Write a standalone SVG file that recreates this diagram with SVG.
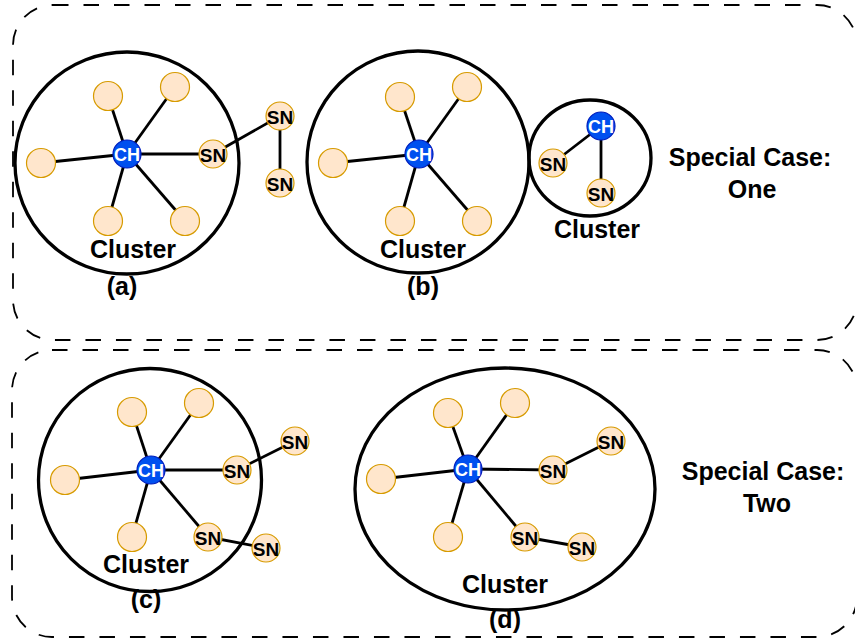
<svg xmlns="http://www.w3.org/2000/svg" width="855" height="641" viewBox="0 0 855 641">
  <style>
    .frame { fill: none; stroke: #000; stroke-width: 1.8; stroke-dasharray: 15.5 15; }
    .cluster { fill: none; stroke: #000; stroke-width: 3.3; }
    .edge { stroke: #000; stroke-width: 2.8; fill: none; }
    .sn { fill: #FFE6CC; stroke: #D79B00; stroke-width: 1.2; }
    .ch { fill: #0050EF; stroke: #001DBC; stroke-width: 1.2; }
    .big { font-family: "Liberation Sans", Arial, sans-serif; font-weight: bold; font-size: 25px; fill: #000; text-anchor: middle; }
    .snt { font-family: "Liberation Sans", Arial, sans-serif; font-weight: bold; font-size: 19px; fill: #000; text-anchor: middle; dominant-baseline: central; }
    .cht { font-family: "Liberation Sans", Arial, sans-serif; font-weight: bold; font-size: 18px; fill: #fff; text-anchor: middle; dominant-baseline: central; }
  </style>

  <!-- dashed case frames -->
  <g id="frames">
    <rect id="frame-one" class="frame" x="13" y="5" width="844" height="335" rx="40" ry="40"/>
    <rect id="frame-two" class="frame" x="12" y="350" width="845" height="287" rx="40" ry="40"/>
  </g>

  <!-- cluster boundaries -->
  <g id="clusters">
    <ellipse id="cluster-a" class="cluster" cx="127" cy="163" rx="112" ry="111"/>
    <ellipse id="cluster-b" class="cluster" cx="418" cy="162" rx="111" ry="111"/>
    <ellipse id="cluster-b2" class="cluster" cx="590" cy="158" rx="61" ry="58"/>
    <ellipse id="cluster-c" class="cluster" cx="150" cy="480" rx="111.5" ry="111.5"/>
    <ellipse id="cluster-d" class="cluster" cx="505" cy="489" rx="150" ry="121"/>
  </g>

  <!-- links -->
  <g id="connectors">
    <!-- (a) -->
    <line class="edge" x1="127" y1="154" x2="108" y2="96"/>
    <line class="edge" x1="127" y1="154" x2="175" y2="87"/>
    <line class="edge" x1="127" y1="154" x2="41" y2="163"/>
    <line class="edge" x1="127" y1="154" x2="108" y2="221"/>
    <line class="edge" x1="127" y1="154" x2="185" y2="221"/>
    <line class="edge" x1="127" y1="154" x2="213" y2="154"/>
    <line class="edge" x1="213" y1="154" x2="280" y2="116"/>
    <line class="edge" x1="280" y1="116" x2="280" y2="183"/>
    <!-- (b) -->
    <line class="edge" x1="419" y1="154" x2="400" y2="97"/>
    <line class="edge" x1="419" y1="154" x2="467" y2="87"/>
    <line class="edge" x1="419" y1="154" x2="333" y2="163"/>
    <line class="edge" x1="419" y1="154" x2="400" y2="221"/>
    <line class="edge" x1="419" y1="154" x2="477" y2="221"/>
    <line class="edge" x1="601" y1="126" x2="553" y2="163"/>
    <line class="edge" x1="601" y1="126" x2="601" y2="193"/>
    <!-- (c) -->
    <line class="edge" x1="151" y1="470" x2="132" y2="412"/>
    <line class="edge" x1="151" y1="470" x2="199" y2="403"/>
    <line class="edge" x1="151" y1="470" x2="65" y2="480"/>
    <line class="edge" x1="151" y1="470" x2="132" y2="537"/>
    <line class="edge" x1="151" y1="470" x2="237" y2="470"/>
    <line class="edge" x1="151" y1="470" x2="208" y2="537"/>
    <line class="edge" x1="237" y1="470" x2="295" y2="441"/>
    <line class="edge" x1="208" y1="537" x2="266" y2="548"/>
    <!-- (d) -->
    <line class="edge" x1="468" y1="469" x2="448" y2="413"/>
    <line class="edge" x1="468" y1="469" x2="515" y2="403"/>
    <line class="edge" x1="468" y1="469" x2="381" y2="479"/>
    <line class="edge" x1="468" y1="469" x2="448" y2="537"/>
    <line class="edge" x1="468" y1="469" x2="553" y2="470"/>
    <line class="edge" x1="468" y1="469" x2="525" y2="537"/>
    <line class="edge" x1="553" y1="470" x2="611" y2="441"/>
    <line class="edge" x1="525" y1="537" x2="582" y2="547"/>
  </g>

  <!-- (a) nodes -->
  <g id="a-n1"><circle class="sn" cx="108" cy="96" r="14.5"/></g>
  <g id="a-n2"><circle class="sn" cx="175" cy="87" r="14.5"/></g>
  <g id="a-n3"><circle class="sn" cx="41" cy="163" r="14.5"/></g>
  <g id="a-n4"><circle class="sn" cx="108" cy="221" r="14.5"/></g>
  <g id="a-n5"><circle class="sn" cx="185" cy="221" r="14.5"/></g>
  <g id="a-ch"><circle class="ch" cx="127" cy="154" r="14"/><text class="cht" x="127" y="155">CH</text></g>
  <g id="a-sn1"><circle class="sn" cx="213" cy="154" r="14"/><text class="snt" x="213" y="155">SN</text></g>
  <g id="a-sn2"><circle class="sn" cx="280" cy="116" r="14"/><text class="snt" x="280" y="117">SN</text></g>
  <g id="a-sn3"><circle class="sn" cx="280" cy="183" r="14"/><text class="snt" x="280" y="184">SN</text></g>

  <!-- (b) nodes -->
  <g id="b-n1"><circle class="sn" cx="400" cy="97" r="14.5"/></g>
  <g id="b-n2"><circle class="sn" cx="467" cy="87" r="14.5"/></g>
  <g id="b-n3"><circle class="sn" cx="333" cy="163" r="14.5"/></g>
  <g id="b-n4"><circle class="sn" cx="400" cy="221" r="14.5"/></g>
  <g id="b-n5"><circle class="sn" cx="477" cy="221" r="14.5"/></g>
  <g id="b-ch"><circle class="ch" cx="419" cy="154" r="14"/><text class="cht" x="419" y="155">CH</text></g>
  <g id="b2-ch"><circle class="ch" cx="601" cy="126" r="14"/><text class="cht" x="601" y="127">CH</text></g>
  <g id="b2-sn1"><circle class="sn" cx="553" cy="163" r="14"/><text class="snt" x="553" y="164">SN</text></g>
  <g id="b2-sn2"><circle class="sn" cx="601" cy="193" r="14"/><text class="snt" x="601" y="194">SN</text></g>

  <!-- (c) nodes -->
  <g id="c-n1"><circle class="sn" cx="132" cy="412" r="14.5"/></g>
  <g id="c-n2"><circle class="sn" cx="199" cy="403" r="14.5"/></g>
  <g id="c-n3"><circle class="sn" cx="65" cy="480" r="14.5"/></g>
  <g id="c-n4"><circle class="sn" cx="132" cy="537" r="14.5"/></g>
  <g id="c-ch"><circle class="ch" cx="151" cy="470" r="14"/><text class="cht" x="151" y="471">CH</text></g>
  <g id="c-sn1"><circle class="sn" cx="237" cy="470" r="14"/><text class="snt" x="237" y="471">SN</text></g>
  <g id="c-sn2"><circle class="sn" cx="208" cy="537" r="14"/><text class="snt" x="208" y="538">SN</text></g>
  <g id="c-sn3"><circle class="sn" cx="295" cy="441" r="14"/><text class="snt" x="295" y="442">SN</text></g>
  <g id="c-sn4"><circle class="sn" cx="266" cy="548" r="14"/><text class="snt" x="266" y="549">SN</text></g>

  <!-- (d) nodes -->
  <g id="d-n1"><circle class="sn" cx="448" cy="413" r="14.5"/></g>
  <g id="d-n2"><circle class="sn" cx="515" cy="403" r="14.5"/></g>
  <g id="d-n3"><circle class="sn" cx="381" cy="479" r="14.5"/></g>
  <g id="d-n4"><circle class="sn" cx="448" cy="537" r="14.5"/></g>
  <g id="d-ch"><circle class="ch" cx="468" cy="469" r="14"/><text class="cht" x="468" y="470">CH</text></g>
  <g id="d-sn1"><circle class="sn" cx="553" cy="470" r="14"/><text class="snt" x="553" y="471">SN</text></g>
  <g id="d-sn2"><circle class="sn" cx="525" cy="537" r="14"/><text class="snt" x="525" y="538">SN</text></g>
  <g id="d-sn3"><circle class="sn" cx="611" cy="441" r="14"/><text class="snt" x="611" y="442">SN</text></g>
  <g id="d-sn4"><circle class="sn" cx="582" cy="547" r="14"/><text class="snt" x="582" y="548">SN</text></g>

  <!-- labels -->
  <g id="labels">
    <text class="big" x="133" y="258">Cluster</text>
    <text class="big" x="122" y="295">(a)</text>
    <text class="big" x="423" y="258">Cluster</text>
    <text class="big" x="423" y="295">(b)</text>
    <text class="big" x="597" y="238">Cluster</text>
    <text class="big" x="750" y="166">Special Case:</text>
    <text class="big" x="752" y="198">One</text>
    <text class="big" x="146" y="573">Cluster</text>
    <text class="big" x="146" y="608">(c)</text>
    <text class="big" x="505" y="593">Cluster</text>
    <text class="big" x="505" y="628">(d)</text>
    <text class="big" x="763" y="480">Special Case:</text>
    <text class="big" x="767" y="512">Two</text>
  </g>
</svg>
